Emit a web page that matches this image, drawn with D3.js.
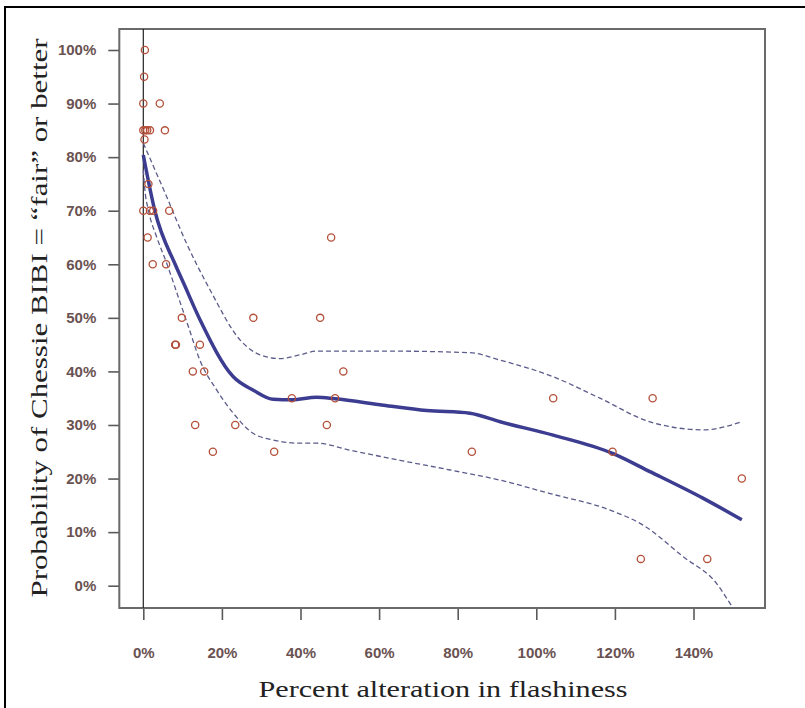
<!DOCTYPE html>
<html>
<head>
<meta charset="utf-8">
<script src="https://cdn.jsdelivr.net/npm/d3@7/dist/d3.min.js"></script>
<style>
  html, body { margin: 0; padding: 0; background: #fff; }
  svg { display: block; }
</style>
</head>
<body>
<svg id="chart" width="805" height="708"></svg>
<script>
// ---- data (fractions) ----
const pointX = [0.004,0.002,0.000,0.042,0.000,0.005,0.010,0.017,0.055,0.003,0.013,0.000,0.017,0.025,0.066,0.011,0.024,0.058,0.098,0.280,0.450,0.081,0.083,0.144,0.126,0.155,0.509,0.378,0.488,1.043,1.296,0.132,0.234,0.467,0.177,0.333,0.836,1.194,1.523,1.266,1.435,0.478];
const pointY = [1.00,0.95,0.90,0.90,0.85,0.85,0.85,0.85,0.85,0.833,0.75,0.70,0.70,0.70,0.70,0.65,0.60,0.60,0.50,0.50,0.50,0.45,0.45,0.45,0.40,0.40,0.40,0.35,0.35,0.35,0.35,0.30,0.30,0.30,0.25,0.25,0.25,0.25,0.20,0.05,0.05,0.65];

const fitX = [0,0.03,0.081,0.103,0.144,0.229,0.280,0.331,0.378,0.441,0.488,0.611,0.721,0.831,0.908,1.043,1.194,1.289,1.425,1.523];
const fitY = [0.804,0.698,0.600,0.564,0.497,0.390,0.365,0.348,0.347,0.352,0.349,0.337,0.327,0.322,0.306,0.281,0.247,0.213,0.163,0.123];

const upperX = [0,0.0595,0.110,0.170,0.246,0.297,0.348,0.399,0.441,0.611,0.831,0.908,1.043,1.162,1.289,1.425,1.523];
const upperY = [0.826,0.726,0.639,0.552,0.459,0.431,0.424,0.431,0.438,0.438,0.435,0.421,0.390,0.350,0.306,0.291,0.306];

const lowerX = [0,0.004,0.013,0.034,0.0595,0.089,0.115,0.144,0.187,0.229,0.280,0.331,0.399,0.441,0.526,0.653,0.781,0.908,1.035,1.188,1.272,1.374,1.459,1.501,1.523];
const lowerY = [0.776,0.739,0.701,0.651,0.602,0.539,0.483,0.421,0.365,0.322,0.284,0.272,0.266,0.266,0.253,0.234,0.216,0.197,0.172,0.141,0.113,0.054,0.004,-0.042,-0.065];

const xTicks = [0,0.2,0.4,0.6,0.8,1.0,1.2,1.4];
const yTicks = [0,0.1,0.2,0.3,0.4,0.5,0.6,0.7,0.8,0.9,1.0];
const xTitle = "Percent alteration in flashiness";
const yTitle = "Probability of Chessie BIBI = \u201Cfair\u201D or better";

// ---- layout ----
const svg = d3.select("#chart");
const box = {l: 119.3, r: 765, t: 29, b: 608};
const x = d3.scaleLinear().domain([0, 1.4]).range([143.3, 693.5]);
const y = d3.scaleLinear().domain([0, 1]).range([585.7, 50]);
const pct = d => Math.round(d * 100) + "%";

// outer frame
svg.append("line").attr("x1", 5).attr("x2", 805).attr("y1", 7).attr("y2", 7)
  .attr("stroke", "#000").attr("stroke-width", 2);
svg.append("line").attr("x1", 5).attr("x2", 5).attr("y1", 6).attr("y2", 708)
  .attr("stroke", "#000").attr("stroke-width", 2);

// clip
svg.append("defs").append("clipPath").attr("id", "clip")
  .append("rect").attr("x", box.l).attr("y", box.t)
  .attr("width", box.r - box.l).attr("height", box.b - box.t);

// axes
const tickColor = "#5a5a5a";
const labelColor = "#6a5252";
const xAxis = svg.append("g").attr("transform", `translate(0,${box.b})`)
  .call(d3.axisBottom(x).tickValues(xTicks).tickFormat(pct).tickSize(12).tickPadding(27));
const yAxis = svg.append("g").attr("transform", `translate(${box.l},0)`)
  .call(d3.axisLeft(y).tickValues(yTicks).tickFormat(pct).tickSize(11).tickPadding(12));
[xAxis, yAxis].forEach(g => {
  g.select(".domain").remove();
  g.selectAll(".tick line").attr("stroke", tickColor).attr("stroke-width", 1.6);
  g.selectAll(".tick text")
    .attr("fill", labelColor)
    .style("font-family", "'Liberation Sans Narrow', 'Arial Narrow', 'Liberation Sans', sans-serif")
    .style("font-weight", "bold")
    .style("font-size", "15px");
});

// plot box
svg.append("rect").attr("x", box.l).attr("y", box.t)
  .attr("width", box.r - box.l).attr("height", box.b - box.t)
  .attr("fill", "none").attr("stroke", "#6a6a6a").attr("stroke-width", 2);

// vertical line at 0
svg.append("line").attr("x1", x(0)).attr("x2", x(0)).attr("y1", box.t).attr("y2", box.b)
  .attr("stroke", "#222").attr("stroke-width", 1.2);

const plot = svg.append("g").attr("clip-path", "url(#clip)");

const line = d3.line().x(d => x(d[0])).y(d => y(d[1])).curve(d3.curveMonotoneX);

// confidence bands
plot.append("path").datum(d3.zip(upperX, upperY)).attr("d", line)
  .attr("fill", "none").attr("stroke", "#5c5c8c").attr("stroke-width", 1.3)
  .attr("stroke-dasharray", "5,3");
plot.append("path").datum(d3.zip(lowerX, lowerY)).attr("d", line)
  .attr("fill", "none").attr("stroke", "#5c5c8c").attr("stroke-width", 1.3)
  .attr("stroke-dasharray", "5,3");

// fitted curve
plot.append("path").datum(d3.zip(fitX, fitY)).attr("d", line)
  .attr("fill", "none").attr("stroke", "#3c3c90").attr("stroke-width", 3.5)
  .attr("stroke-linejoin", "round");

// points
plot.selectAll("circle.pt").data(d3.zip(pointX, pointY)).join("circle")
  .attr("class", "pt")
  .attr("cx", d => x(d[0])).attr("cy", d => y(d[1])).attr("r", 3.6)
  .attr("fill", "none").attr("stroke", "#b4503a").attr("stroke-width", 1.3);

// titles
svg.append("text").attr("x", 443).attr("y", 697).attr("text-anchor", "middle")
  .style("font-family", "'Liberation Serif', 'DejaVu Serif', serif")
  .style("font-size", "24px").attr("fill", "#222")
  .attr("textLength", 369).attr("lengthAdjust", "spacingAndGlyphs")
  .text(xTitle);
svg.append("text").attr("transform", "translate(47,318) rotate(-90)")
  .attr("text-anchor", "middle")
  .style("font-family", "'Liberation Serif', 'DejaVu Serif', serif")
  .style("font-size", "24px").attr("fill", "#222")
  .attr("textLength", 559).attr("lengthAdjust", "spacingAndGlyphs")
  .text(yTitle);
</script>
</body>
</html>
